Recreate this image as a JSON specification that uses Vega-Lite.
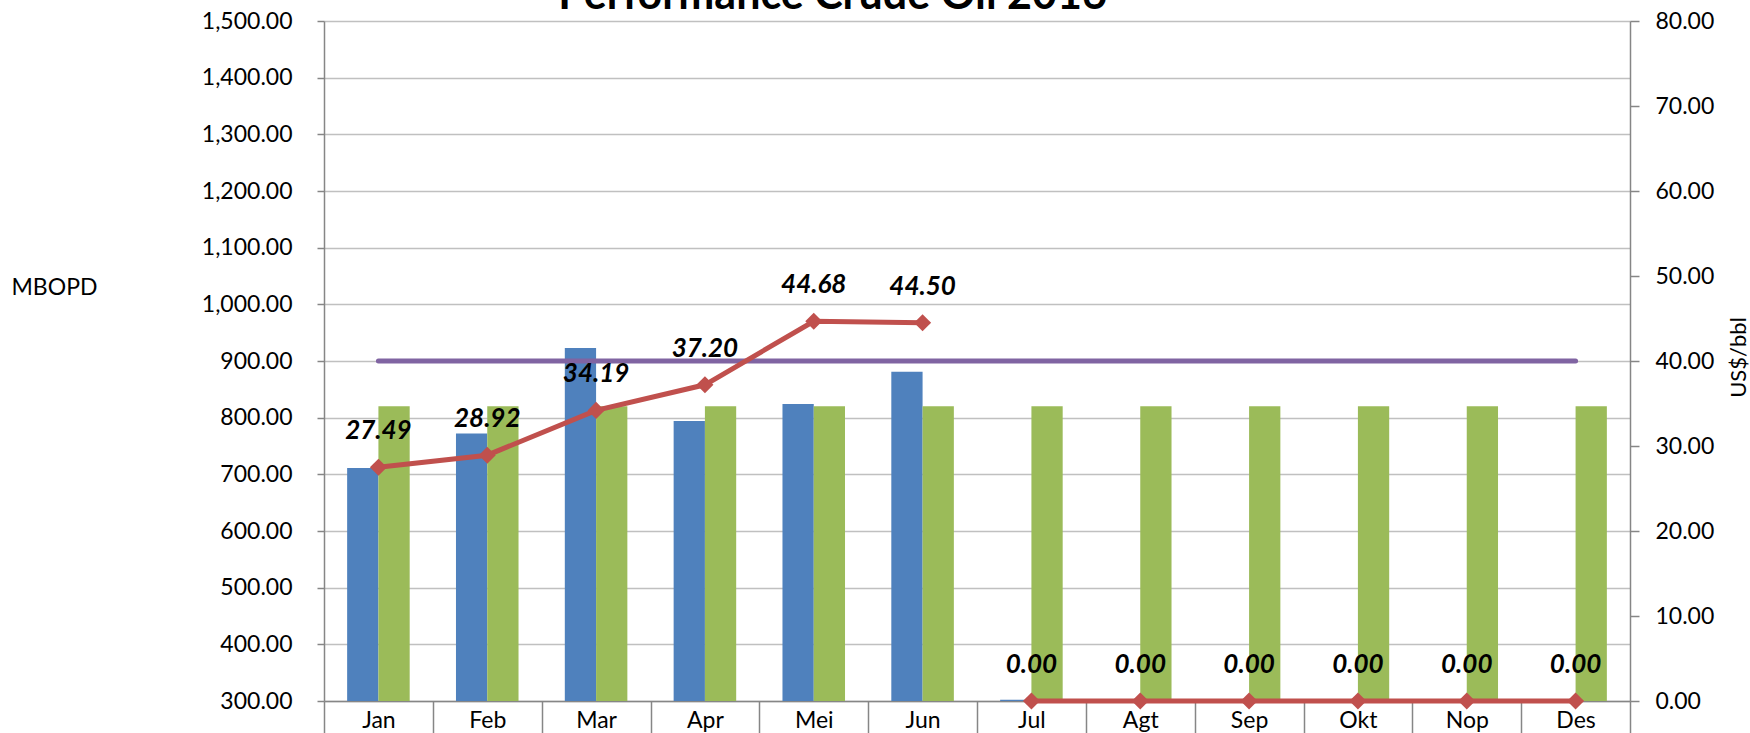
{
  "$schema": "https://vega.github.io/schema/vega-lite/v6.json",
  "autosize": {"type": "none"},
  "width": 1306,
  "height": 680,
  "padding": {"left": 324, "top": 21, "right": 120, "bottom": 32},
  "background": "white",
  "config": {"view": {"stroke": null}, "font": "Lato"},
  "datasets": {
    "prod": [
      {"month": "Jan", "series": "Lifting", "mbopd": 711},
      {"month": "Jan", "series": "Target", "mbopd": 820},
      {"month": "Feb", "series": "Lifting", "mbopd": 772},
      {"month": "Feb", "series": "Target", "mbopd": 820},
      {"month": "Mar", "series": "Lifting", "mbopd": 923},
      {"month": "Mar", "series": "Target", "mbopd": 820},
      {"month": "Apr", "series": "Lifting", "mbopd": 794},
      {"month": "Apr", "series": "Target", "mbopd": 820},
      {"month": "Mei", "series": "Lifting", "mbopd": 824},
      {"month": "Mei", "series": "Target", "mbopd": 820},
      {"month": "Jun", "series": "Lifting", "mbopd": 881},
      {"month": "Jun", "series": "Target", "mbopd": 820},
      {"month": "Jul", "series": "Lifting", "mbopd": 302},
      {"month": "Jul", "series": "Target", "mbopd": 820},
      {"month": "Agt", "series": "Target", "mbopd": 820},
      {"month": "Sep", "series": "Target", "mbopd": 820},
      {"month": "Okt", "series": "Target", "mbopd": 820},
      {"month": "Nop", "series": "Target", "mbopd": 820},
      {"month": "Des", "series": "Target", "mbopd": 820}
    ],
    "price": [
      {"month": "Jan", "seg": "A", "icp": 27.49},
      {"month": "Feb", "seg": "A", "icp": 28.92},
      {"month": "Mar", "seg": "A", "icp": 34.19},
      {"month": "Apr", "seg": "A", "icp": 37.20},
      {"month": "Mei", "seg": "A", "icp": 44.68},
      {"month": "Jun", "seg": "A", "icp": 44.50},
      {"month": "Jul", "seg": "B", "icp": 0},
      {"month": "Agt", "seg": "B", "icp": 0},
      {"month": "Sep", "seg": "B", "icp": 0},
      {"month": "Okt", "seg": "B", "icp": 0},
      {"month": "Nop", "seg": "B", "icp": 0},
      {"month": "Des", "seg": "B", "icp": 0}
    ],
    "assump": [
      {"month": "Jan", "icp": 40}, {"month": "Feb", "icp": 40}, {"month": "Mar", "icp": 40},
      {"month": "Apr", "icp": 40}, {"month": "Mei", "icp": 40}, {"month": "Jun", "icp": 40},
      {"month": "Jul", "icp": 40}, {"month": "Agt", "icp": 40}, {"month": "Sep", "icp": 40},
      {"month": "Okt", "icp": 40}, {"month": "Nop", "icp": 40}, {"month": "Des", "icp": 40}
    ]
  },
  "layer": [
    {
      "data": {"name": "prod"},
      "mark": {"type": "bar", "clip": true},
      "encoding": {
        "x": {
          "field": "month", "type": "nominal",
          "scale": {"domain": ["Jan","Feb","Mar","Apr","Mei","Jun","Jul","Agt","Sep","Okt","Nop","Des"], "paddingInner": 0, "paddingOuter": 0},
          "axis": {
            "orient": "bottom", "title": null, "labelAngle": 0,
            "labelFont": "Lato", "labelFontSize": 23, "labelColor": "black",
            "tickBand": "extent", "tickSize": 40, "tickColor": "#868686", "tickWidth": 1.5,
            "domainColor": "#868686", "domainWidth": 1.5,
            "labelBaseline": "middle", "labelPadding": -21
          }
        },
        "xOffset": {
          "field": "series", "type": "nominal",
          "scale": {"domain": ["Lifting", "Target"], "paddingInner": 0, "paddingOuter": 0.74}
        },
        "y": {
          "field": "mbopd", "type": "quantitative",
          "scale": {"domain": [300, 1500], "zero": false, "nice": false},
          "axis": {
            "orient": "left",
            "values": [300,400,500,600,700,800,900,1000,1100,1200,1300,1400,1500],
            "format": ",.2f",
            "labelFont": "Lato", "labelFontSize": 23, "labelColor": "black",
            "tickSize": 7, "tickColor": "#868686", "tickWidth": 1.5, "labelPadding": 25,
            "domainColor": "#868686", "domainWidth": 1.5,
            "grid": true, "gridColor": "#C0C0C0", "gridWidth": 1.5,
            "title": "MBOPD", "titleAngle": 0, "titleAlign": "left", "titleBaseline": "middle",
            "titleX": -313, "titleY": 266,
            "titleFont": "Lato", "titleFontSize": 23, "titleFontWeight": "normal", "titleColor": "black"
          }
        },
        "color": {
          "field": "series", "type": "nominal",
          "scale": {"domain": ["Lifting", "Target"], "range": ["#4F81BD", "#9BBB59"]},
          "legend": null
        }
      }
    },
    {
      "layer": [
        {
          "data": {"name": "assump"},
          "mark": {"type": "line", "color": "#8064A2", "strokeWidth": 5, "strokeCap": "round"},
          "encoding": {
            "x": {
              "field": "month", "type": "nominal",
              "scale": {"domain": ["Jan","Feb","Mar","Apr","Mei","Jun","Jul","Agt","Sep","Okt","Nop","Des"]},
              "axis": {
                "orient": "top", "labels": false, "ticks": false, "domain": false, "grid": false,
                "title": "Performance Crude Oil 2016",
                "titleFont": "Lato", "titleFontSize": 43, "titleFontWeight": "bold", "titleColor": "black",
                "titleX": 508, "titleY": -13, "titleAlign": "center", "titleBaseline": "alphabetic", "titleAnchor": null
              }
            },
            "y": {
              "field": "icp", "type": "quantitative",
              "scale": {"domain": [0, 80], "nice": false},
              "axis": {
                "orient": "right",
                "values": [0,10,20,30,40,50,60,70,80],
                "format": ".2f",
                "labelFont": "Lato", "labelFontSize": 23, "labelColor": "black",
                "tickSize": 9, "tickColor": "#868686", "tickWidth": 1.5, "labelPadding": 16,
                "domainColor": "#868686", "domainWidth": 1.5,
                "grid": false,
                "title": "US$/bbl", "titleAngle": 270, "titleFont": "Lato", "titleFontSize": 22,
                "titleFontWeight": "normal", "titleColor": "black",
                "titleX": 108, "titleY": 336, "titleAlign": "center", "titleBaseline": "middle"
              }
            }
          }
        },
        {
          "data": {"name": "price"},
          "mark": {
            "type": "line", "color": "#C0504D", "strokeWidth": 5,
            "point": {"shape": "diamond", "size": 290, "filled": true, "color": "#C0504D", "opacity": 1}
          },
          "encoding": {
            "x": {"field": "month", "type": "nominal", "scale": {"domain": ["Jan","Feb","Mar","Apr","Mei","Jun","Jul","Agt","Sep","Okt","Nop","Des"]}},
            "y": {"field": "icp", "type": "quantitative", "scale": {"domain": [0, 80], "nice": false}},
            "detail": {"field": "seg", "type": "nominal"}
          }
        },
        {
          "data": {"name": "price"},
          "mark": {"type": "text", "font": "Lato", "fontSize": 26, "fontWeight": "bold", "fontStyle": "italic", "color": "black", "dy": -36, "baseline": "middle"},
          "encoding": {
            "x": {"field": "month", "type": "nominal", "scale": {"domain": ["Jan","Feb","Mar","Apr","Mei","Jun","Jul","Agt","Sep","Okt","Nop","Des"]}},
            "y": {"field": "icp", "type": "quantitative", "scale": {"domain": [0, 80], "nice": false}},
            "text": {"field": "icp", "type": "quantitative", "format": ".2f"}
          }
        }
      ]
    }
  ],
  "resolve": {"scale": {"y": "independent"}, "axis": {"x": "independent"}}
}
